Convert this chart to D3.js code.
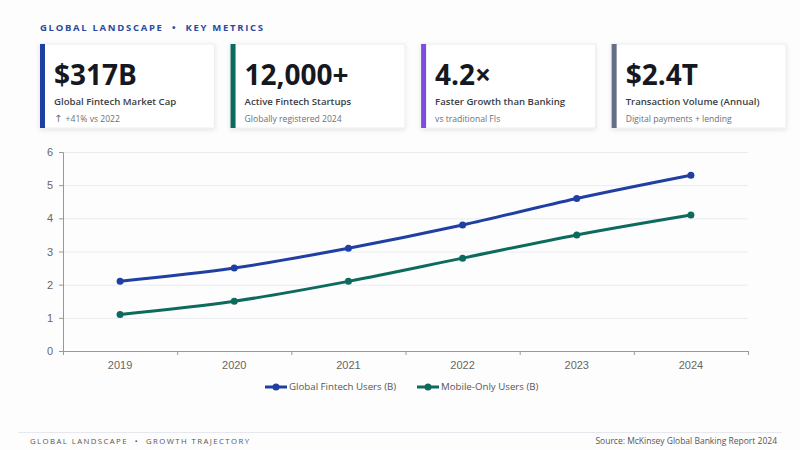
<!DOCTYPE html>
<html>
<head>
<meta charset=utf-8>
<title>Global Landscape</title>
<style>
body{margin: 0; background: #fdfdfe;}
#wholechart{position: relative; width: 800px; height: 450px; font-family: 'Open Sans', 'Noto Sans', sans-serif;}
.grid line{stroke: #e9ebf0;}
.axis text{font-family: 'Liberation Sans', Arial, sans-serif; font-size: 11px; fill: #666;}
.axis path, .axis line{stroke: #999;}
</style>
</head>
<body>
<div id=wholechart></div>
<script src='https://cdn.jsdelivr.net/npm/d3@7/dist/d3.min.js'></script>
<script>
//data
var years = ['2019', '2020', '2021', '2022', '2023', '2024'];
var fintechUsers = [2.1, 2.5, 3.1, 3.8, 4.6, 5.3];
var mobileUsers = [1.1, 1.5, 2.1, 2.8, 3.5, 4.1];
var seriesNames = ['Global Fintech Users (B)', 'Mobile-Only Users (B)'];
var yTicks = [0, 1, 2, 3, 4, 5, 6];

var kpiValues = ['$317B', '12,000+', '4.2\u00d7', '$2.4T'];
var kpiLabels = ['Global Fintech Market Cap', 'Active Fintech Startups', 'Faster Growth than Banking', 'Transaction Volume (Annual)'];
var kpiArrows = ['\u2191', '', '', ''];
var kpiSubs = ['+41% vs 2022', 'Globally registered 2024', 'vs traditional FIs', 'Digital payments + lending'];

var kpiColors = ['#1f3fa3', '#0d6b5e', '#7c4ddf', '#646e86'];
var lineColors = ['#1f3fa3', '#0d6b5e'];

var svg = d3.select('#wholechart').append('svg')
    .attr('width', 800)
    .attr('height', 450);

var defs = svg.append('defs');
var shadow = defs.append('filter').attr('id', 'shadow').attr('x', '-10%').attr('y', '-10%').attr('width', '120%').attr('height', '130%');
shadow.append('feDropShadow').attr('dx', 0).attr('dy', 1.5).attr('stdDeviation', 2)
    .attr('flood-color', '#1a2340').attr('flood-opacity', 0.10);

//header
svg.append('text')
    .attr('x', 40).attr('y', 31)
    .attr('fill', '#2b4a9c')
    .attr('font-size', 9.5).attr('font-weight', 700)
    .attr('letter-spacing', 1.7)
    .text('GLOBAL LANDSCAPE\u00a0\u00a0\u2022\u00a0\u00a0KEY METRICS');

//kpi cards
var cardX = d3.scaleBand().domain(d3.range(4)).range([40, 786]).paddingInner(0.085);
var cards = svg.selectAll('g.card')
    .data(kpiValues)
  .enter().append('g')
    .attr('class', 'card')
    .attr('transform', (d, i) => 'translate(' + cardX(i) + ',44)');

cards.append('rect')
    .attr('width', cardX.bandwidth()).attr('height', 84)
    .attr('fill', '#fff').attr('stroke', '#eceef3')
    .attr('filter', 'url(#shadow)');
cards.append('rect')
    .attr('width', 5).attr('height', 84)
    .attr('fill', (d, i) => kpiColors[i]);
cards.append('text')
    .attr('x', 14).attr('y', 41)
    .attr('font-size', 28).attr('font-weight', 700)
    .attr('fill', '#16181f')
    .text(d => d);
cards.append('text')
    .attr('x', 14).attr('y', 61)
    .attr('font-size', 9.6).attr('font-weight', 600)
    .attr('fill', '#3a3d46')
    .text((d, i) => kpiLabels[i]);
var subs = cards.append('text')
    .attr('x', 14).attr('y', 78)
    .attr('font-size', 8.6)
    .attr('fill', '#6b6f78');
subs.filter((d, i) => kpiArrows[i]).append('tspan')
    .attr('font-family', 'DejaVu Sans')
    .attr('font-size', 10)
    .text((d, i) => kpiArrows[kpiValues.indexOf(d)] + '\u00a0');
subs.append('tspan')
    .text((d, i) => kpiSubs[i]);

//line chart
var x = d3.scaleBand().domain(years).range([63, 748]);
var y = d3.scaleLinear().domain([0, 6]).range([351, 152]);

svg.append('g')
    .attr('class', 'grid')
  .selectAll('line')
    .data(yTicks.slice(1))
  .enter().append('line')
    .attr('x1', 63).attr('x2', 748)
    .attr('y1', d => y(d) + 0.5).attr('y2', d => y(d) + 0.5);

svg.append('g')
    .attr('class', 'axis')
    .attr('transform', 'translate(0,351)')
    .call(d3.axisBottom(x).tickSize(0).tickPadding(10));

//ticks between categories
svg.append('g')
    .attr('class', 'axis')
  .selectAll('line')
    .data(years.concat(['end']))
  .enter().append('line')
    .attr('x1', (d, i) => 63 + i * x.step() + 0.5)
    .attr('x2', (d, i) => 63 + i * x.step() + 0.5)
    .attr('y1', 351).attr('y2', 355);

svg.append('g')
    .attr('class', 'axis')
    .attr('transform', 'translate(63,0)')
    .call(d3.axisLeft(y).tickValues(yTicks).tickFormat(d3.format('d')).tickSize(4).tickPadding(6));

var line = d3.line()
    .x((d, i) => x(years[i]) + x.bandwidth() / 2)
    .y(d => y(d))
    .curve(d3.curveMonotoneX);

[fintechUsers, mobileUsers].forEach(function(series, s){
  svg.append('path')
      .datum(series)
      .attr('fill', 'none')
      .attr('stroke', lineColors[s])
      .attr('stroke-width', 3)
      .attr('d', line);
  svg.append('g').selectAll('circle')
      .data(series)
    .enter().append('circle')
      .attr('cx', (d, i) => x(years[i]) + x.bandwidth() / 2)
      .attr('cy', d => y(d))
      .attr('r', 3.5)
      .attr('fill', lineColors[s]);
});

//legend
var legend = svg.append('g').attr('transform', 'translate(265,387)');
var legendItems = legend.selectAll('g')
    .data(seriesNames)
  .enter().append('g')
    .attr('transform', (d, i) => 'translate(' + (i * 152) + ',0)');
legendItems.append('line')
    .attr('x1', 0).attr('x2', 22)
    .attr('stroke', (d, i) => lineColors[i]).attr('stroke-width', 3);
legendItems.append('circle')
    .attr('cx', 11).attr('r', 3.5)
    .attr('fill', (d, i) => lineColors[i]);
legendItems.append('text')
    .attr('x', 24).attr('dy', '0.35em')
    .attr('font-size', 9.7).attr('fill', '#555')
    .text(d => d);

//footer
svg.append('line')
    .attr('x1', 18).attr('x2', 782)
    .attr('y1', 432.5).attr('y2', 432.5)
    .attr('stroke', '#e6e8ee');
svg.append('text')
    .attr('x', 30).attr('y', 444)
    .attr('font-size', 7.8).attr('fill', '#555')
    .attr('letter-spacing', 1.4)
    .text('GLOBAL LANDSCAPE\u00a0\u00a0\u2022\u00a0\u00a0GROWTH TRAJECTORY');
svg.append('text')
    .attr('x', 777).attr('y', 444)
    .attr('text-anchor', 'end')
    .attr('font-size', 8.5).attr('fill', '#555')
    .text('Source: McKinsey Global Banking Report 2024');
</script>
</body>
</html>
